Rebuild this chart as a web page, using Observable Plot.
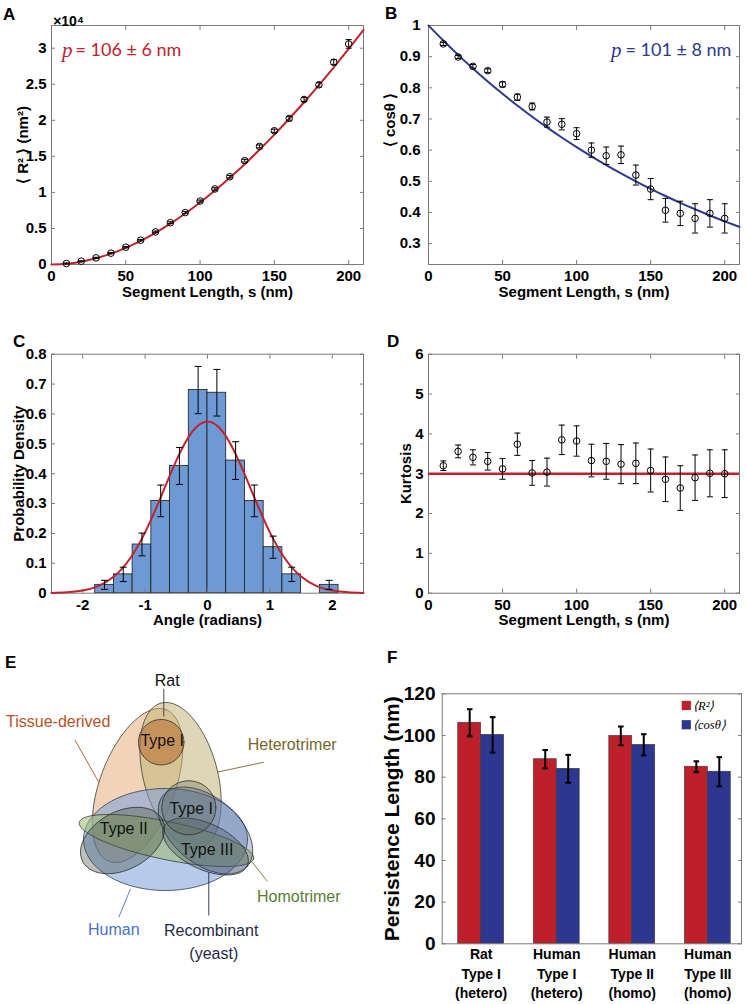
<!DOCTYPE html>
<html><head><meta charset="utf-8">
<script src="https://cdn.jsdelivr.net/npm/d3@7"></script>
<script src="https://cdn.jsdelivr.net/npm/@observablehq/plot@0.6"></script>
<style>
body{margin:0;background:#fff;}
#fig{position:relative;width:747px;height:1004px;overflow:hidden;font-family:"Liberation Sans",Arial,sans-serif;}
.panel{position:absolute;}
.letter{position:absolute;font-weight:bold;font-size:17px;line-height:17px;color:#000;}
</style></head><body><div id="fig"></div>
<script>
// ---------------- DATA ----------------
const segmentLength = [10,20,30,40,50,60,70,80,90,100,110,120,130,140,150,160,170,180,190,200];
// Panel A: <R^2> (nm^2)
const r2Mean = [140,460,920,1570,2400,3370,4520,5800,7200,8800,10480,12180,14400,16380,18550,20260,22890,24920,28060,30600];
const r2Err  = [60,60,70,80,90,100,110,120,130,140,160,170,190,200,220,240,260,300,350,600];
const fitS   = [0,10,20,30,40,50,60,70,80,90,100,110,120,130,140,150,160,170,180,190,200,210];
const r2Fit  = [0,98,388,859,1504,2315,3283,4402,5666,7066,8597,10253,12028,13916,15913,18013,20212,22505,24888,27356,29906,32533];
// Panel B: <cos theta>
const cosMean = [0.941,0.899,0.869,0.855,0.811,0.770,0.740,0.690,0.683,0.653,0.600,0.582,0.585,0.520,0.475,0.407,0.397,0.381,0.397,0.381];
const cosErr  = [0.005,0.005,0.006,0.006,0.008,0.010,0.011,0.016,0.018,0.019,0.023,0.028,0.028,0.032,0.034,0.038,0.039,0.047,0.044,0.047];
const cosFit  = [1,0.9517,0.9057,0.8620,0.8204,0.7808,0.7430,0.7071,0.6730,0.6405,0.6096,0.5801,0.5521,0.5254,0.5000,0.4759,0.4529,0.4310,0.4102,0.3904,0.3716,0.3536];
// Panel C: angle histogram
const binStart   = [-1.8,-1.5,-1.2,-0.9,-0.6,-0.3,0,0.3,0.6,0.9,1.2,1.8];
const binEnd     = [-1.5,-1.2,-0.9,-0.6,-0.3,0,0.3,0.6,0.9,1.2,1.5,2.1];
const density    = [0.028,0.063,0.163,0.309,0.426,0.680,0.671,0.444,0.309,0.154,0.063,0.028];
const densityErr = [0.015,0.024,0.038,0.053,0.062,0.079,0.078,0.063,0.053,0.037,0.024,0.015];
const gaussX = [-2.5,-2.25,-2,-1.75,-1.5,-1.25,-1,-0.75,-0.5,-0.25,0,0.25,0.5,0.75,1,1.25,1.5,1.75,2,2.25,2.5];
const gaussY = [0.0009,0.003,0.009,0.0239,0.0556,0.1136,0.2036,0.3207,0.4436,0.5389,0.575,0.5389,0.4436,0.3207,0.2036,0.1136,0.0556,0.0239,0.009,0.003,0.0009];
// Panel D: kurtosis
const kurtMean = [3.20,3.56,3.41,3.31,3.12,3.74,3.02,3.04,3.85,3.82,3.33,3.31,3.24,3.26,3.08,2.86,2.64,2.90,3.01,3.00];
const kurtErr  = [0.12,0.16,0.19,0.22,0.26,0.28,0.31,0.35,0.37,0.38,0.41,0.45,0.49,0.51,0.54,0.56,0.56,0.57,0.59,0.60];
const gaussianKurtosis = [3];
// Panel F: persistence length
const samples  = ["Rat\nType I\n(hetero)","Human\nType I\n(hetero)","Human\nType II\n(homo)","Human\nType III\n(homo)"];
const lpR2     = [106.1,88.6,99.8,85.0];
const lpR2Err  = [6.5,4.4,4.5,2.6];
const lpCos    = [100.3,84.0,95.5,82.6];
const lpCosErr = [8.5,6.7,5.1,7.0];
const seriesNames = ["⟨R²⟩","⟨cosθ⟩"];

// ---------------- STYLE / LAYOUT ----------------
const GRAY = "#7a7a7a";
const RED = "#c1232d", BLUE = "#2d3990", BAR_RED = "#bd1f2b", BAR_BLUE = "#2e3790";
const capSymbol = {draw(ctx, size){ const w = Math.sqrt(size/Math.PI); ctx.moveTo(-w,0); ctx.lineTo(w,0); }};
const baseStyle = {background:"transparent", fontFamily:"'Liberation Sans', Arial, sans-serif", fontSize:"15px", fontWeight:"bold", color:"black", overflow:"visible"};
const numFmt = d => String(d);

function boxAxes({xTicks, yTicks, xFmt = numFmt, yFmt = numFmt, xPad = 10, yPad = 9, xTop = true}) {
  const blank = () => "";
  const m = [
    Plot.frame({stroke: GRAY, strokeWidth: 1}),
    Plot.axisX({ticks: xTicks, tickSize: -4, tickPadding: xPad, tickFormat: xFmt, stroke: GRAY, fill: "black", label: null}),
    Plot.axisY({ticks: yTicks, tickSize: -4, tickPadding: yPad, tickFormat: yFmt, stroke: GRAY, fill: "black", label: null}),
    Plot.axisY({anchor: "right", ticks: yTicks, tickSize: -4, tickFormat: blank, stroke: GRAY, label: null})
  ];
  if (xTop) m.push(Plot.axisX({anchor: "top", ticks: xTicks, tickSize: -4, tickFormat: blank, stroke: GRAY, label: null}));
  return m;
}
function errorMarks(rows, xk, {stroke = "black", sw = 1, cap = 3.5} = {}) {
  return [
    Plot.ruleX(rows, {x: xk, y1: d => d.m - d.e, y2: d => d.m + d.e, stroke, strokeWidth: sw}),
    Plot.dot(rows, {x: xk, y: d => d.m - d.e, symbol: capSymbol, r: cap, stroke, strokeWidth: sw, fill: "none"}),
    Plot.dot(rows, {x: xk, y: d => d.m + d.e, symbol: capSymbol, r: cap, stroke, strokeWidth: sw, fill: "none"})
  ];
}
const xLabel = (t, dy = 32) => Plot.text([t], {text: d => d, frameAnchor: "bottom", dy, fontSize: 15, fontWeight: "bold", textAnchor: "middle"});
const yLabel = (t, dx, dy = 0, fs = 15) => Plot.text([t], {text: d => d, frameAnchor: "left", dx, dy, rotate: -90, textAnchor: "middle", fontSize: fs, fontWeight: "bold"});
const fig = document.getElementById("fig");
function place(el, left, top) { const d = document.createElement("div"); d.className = "panel"; d.style.left = left + "px"; d.style.top = top + "px"; d.appendChild(el); fig.appendChild(d); }

const segTicks = [0,50,100,150,200];

// ---------------- PANEL A ----------------
const rowsA = segmentLength.map((s, i) => ({s, m: r2Mean[i], e: r2Err[i]}));
const fitA = fitS.map((s, i) => ({s, v: r2Fit[i]}));
place(Plot.plot({
  width: 370, height: 320, marginLeft: 51, marginRight: 7, marginTop: 25, marginBottom: 56,
  style: baseStyle,
  x: {domain: [0, 210]}, y: {domain: [0, 33150]},
  marks: [
    ...boxAxes({xTicks: segTicks, yTicks: [0,5000,10000,15000,20000,25000,30000], yFmt: d => String(d / 1e4)}),
    Plot.line(fitA, {x: "s", y: "v", stroke: RED, strokeWidth: 2, curve: "natural"}),
    ...errorMarks(rowsA, "s", {cap: 3}),
    Plot.dot(rowsA, {x: "s", y: "m", r: 3.3, stroke: "black", strokeWidth: 1, fill: "none"}),
    Plot.text(["×10⁴"], {text: d => d, frameAnchor: "top-left", dx: 17, dy: -9, fontSize: 14, fontWeight: "bold", textAnchor: "middle"}),
    Plot.text(["p"], {text: d => d, frameAnchor: "top-left", dx: 10.5, dy: 17, textAnchor: "start", fontSize: 21, fontStyle: "italic", fontWeight: "normal", fontFamily: "'Liberation Serif', serif", fill: RED}),
    Plot.text(["= 106 ± 6 nm"], {text: d => d, frameAnchor: "top-left", dx: 24, dy: 18, textAnchor: "start", fontSize: 18, fontWeight: "normal", fontFamily: "Lato, sans-serif", fill: RED}),
    xLabel("Segment Length, s (nm)"),
    yLabel("⟨ R² ⟩ (nm²)", -28)
  ]
}), 0, 0);

// ---------------- PANEL B ----------------
const rowsB = segmentLength.map((s, i) => ({s, m: cosMean[i], e: cosErr[i]}));
const fitB = fitS.map((s, i) => ({s, v: cosFit[i]}));
place(Plot.plot({
  width: 377, height: 320, marginLeft: 58, marginRight: 8, marginTop: 25, marginBottom: 56,
  style: baseStyle,
  x: {domain: [0, 210]}, y: {domain: [0.233, 1.0]},
  marks: [
    ...boxAxes({xTicks: segTicks, yTicks: [0.3,0.4,0.5,0.6,0.7,0.8,0.9,1], yFmt: d => d === 1 ? "1" : d.toFixed(1), yPad: 12}),
    Plot.line(fitB, {x: "s", y: "v", stroke: BLUE, strokeWidth: 2, curve: "natural"}),
    ...errorMarks(rowsB, "s", {cap: 3}),
    Plot.dot(rowsB, {x: "s", y: "m", r: 3.3, stroke: "black", strokeWidth: 1, fill: "none"}),
    Plot.text(["p"], {text: d => d, frameAnchor: "top-left", dx: 182.5, dy: 17, textAnchor: "start", fontSize: 21, fontStyle: "italic", fontWeight: "normal", fontFamily: "'Liberation Serif', serif", fill: BLUE}),
    Plot.text(["= 101 ± 8 nm"], {text: d => d, frameAnchor: "top-left", dx: 197, dy: 18, textAnchor: "start", fontSize: 18, fontWeight: "normal", fontFamily: "Lato, sans-serif", fill: BLUE}),
    xLabel("Segment Length, s (nm)"),
    yLabel("⟨ cosθ ⟩", -38, -25)
  ]
}), 370, 0);

// ---------------- PANEL C ----------------
const rowsC = binStart.map((b, i) => ({x1: b, x2: binEnd[i], c: (b + binEnd[i]) / 2, m: density[i], e: densityErr[i]}));
const fitC = gaussX.map((x, i) => ({x, v: gaussY[i]}));
place(Plot.plot({
  width: 370, height: 320, marginLeft: 51, marginRight: 7, marginTop: 33.7, marginBottom: 47.3,
  style: baseStyle,
  x: {domain: [-2.5, 2.5]}, y: {domain: [0, 0.8]},
  marks: [
    Plot.rectY(rowsC, {x1: "x1", x2: "x2", y: "m", fill: "#6d9ad4", stroke: "#1a1a1a", strokeWidth: 0.8}),
    ...boxAxes({xTicks: [-2,-1,0,1,2], yTicks: [0,0.1,0.2,0.3,0.4,0.5,0.6,0.7,0.8], yFmt: d => d === 0 ? "0" : d.toFixed(1)}),
    Plot.line(fitC, {x: "x", y: "v", stroke: RED, strokeWidth: 2, curve: "natural"}),
    ...errorMarks(rowsC, "c", {cap: 3.5}),
    xLabel("Angle (radians)"),
    yLabel("Probability Density", -32)
  ]
}), 0, 320);

// ---------------- PANEL D ----------------
const rowsD = segmentLength.map((s, i) => ({s, m: kurtMean[i], e: kurtErr[i]}));
place(Plot.plot({
  width: 377, height: 320, marginLeft: 58, marginRight: 8, marginTop: 33.7, marginBottom: 47.3,
  style: baseStyle,
  x: {domain: [0, 210]}, y: {domain: [0, 6]},
  marks: [
    ...boxAxes({xTicks: segTicks, yTicks: [0,1,2,3,4,5,6]}),
    Plot.ruleY(gaussianKurtosis, {stroke: RED, strokeWidth: 2.5}),
    ...errorMarks(rowsD, "s", {cap: 3}),
    Plot.dot(rowsD, {x: "s", y: "m", r: 3.3, stroke: "black", strokeWidth: 1, fill: "none"}),
    xLabel("Segment Length, s (nm)"),
    yLabel("Kurtosis", -22)
  ]
}), 370, 320);

// ---------------- PANEL E (Venn) ----------------
const vennShapes = [
  {cx:137, cy:145, rx:81, ry:37.6, angle:-69.5, fill:"#e8b888", op:0.6, stroke:"#3a3a3a"},
  {cx:180, cy:135, rx:75, ry:37, angle:75, fill:"#c2b478", op:0.55, stroke:"#3a3a3a"},
  {cx:165, cy:199, rx:82, ry:51, angle:0, fill:"#7a9ed8", op:0.55, stroke:"#2f3d5a"},
  {cx:166, cy:200, rx:89, ry:19, angle:11.8, fill:"#9fba70", op:0.55, stroke:"#3a3a3a"},
  {cx:205, cy:190, rx:55, ry:33, angle:40, fill:"#4a5a80", op:0.3, stroke:"#1f2a44"},
  {cx:122, cy:200, rx:45, ry:29, angle:-28, fill:"#3d4a3d", op:0.35, stroke:"#2a2a2a"},
  {cx:205, cy:206, rx:46, ry:23, angle:25, fill:"#3a4a55", op:0.3, stroke:"#2a2a2a"},
  {cx:160.7, cy:101.7, rx:22.7, ry:22.7, angle:0, fill:"#b8692e", op:0.55, stroke:"#2a2a2a"},
  {cx:188.3, cy:167.3, rx:27, ry:27, angle:0, fill:"#5a6450", op:0.3, stroke:"#2a2a2a"}
];
const ellipsePts = (s) => d3.range(97).map(k => {
  const t = 2 * Math.PI * k / 96, a = s.angle * Math.PI / 180;
  return {x: s.cx + s.rx * Math.cos(t) * Math.cos(a) - s.ry * Math.sin(t) * Math.sin(a),
          y: s.cy + s.rx * Math.cos(t) * Math.sin(a) + s.ry * Math.sin(t) * Math.cos(a)};
});
const vennText = [
  {t:"Rat", x:166.7, y:40, c:"#111"},
  {t:"Tissue-derived", x:57.7, y:81.7, c:"#b5532a"},
  {t:"Heterotrimer", x:291.7, y:104.3, c:"#76662a"},
  {t:"Type I", x:161.7, y:100, c:"#111"},
  {t:"Type I", x:190.7, y:168.3, c:"#111"},
  {t:"Type II", x:123.3, y:188.3, c:"#111"},
  {t:"Type III", x:206.7, y:209.3, c:"#111"},
  {t:"Homotrimer", x:298.3, y:256.7, c:"#5b7b33"},
  {t:"Human", x:113.3, y:289.3, c:"#4a72c4"},
  {t:"Recombinant", x:210.7, y:290, c:"#222b45"},
  {t:"(yeast)", x:213.3, y:313.3, c:"#222b45"}
];
const vennLeaders = [
  {x1:163.3, y1:48.3, x2:163.3, y2:76, c:"#333"},
  {x1:74.3, y1:99.3, x2:98.3, y2:141.7, c:"#b5532a"},
  {x1:263.3, y1:121.7, x2:216.7, y2:131.7, c:"#76662a"},
  {x1:266.7, y1:240.7, x2:251.7, y2:221.7, c:"#5b7b33"},
  {x1:118.3, y1:276.7, x2:130, y2:248.3, c:"#4a72c4"},
  {x1:208.3, y1:275, x2:208.3, y2:231.7, c:"#222b45"}
];
place(Plot.plot({
  width: 370, height: 364, margin: 0,
  style: {...baseStyle, fontWeight: "normal", fontSize: "16px"},
  x: {domain: [0, 370], range: [0, 370], axis: null},
  y: {domain: [0, 364], range: [0, 364], axis: null},
  color: {type: "identity"},
  marks: [
    ...vennShapes.map(s => Plot.line(ellipsePts(s), {x: "x", y: "y", curve: "linear-closed", fill: s.fill, fillOpacity: s.op, stroke: s.stroke, strokeWidth: 0.8})),
    Plot.link(vennLeaders, {x1: "x1", y1: "y1", x2: "x2", y2: "y2", stroke: "c", strokeWidth: 0.9}),
    Plot.text(vennText, {x: "x", y: "y", text: "t", fill: "c", fontSize: 16, fontWeight: "normal"})
  ]
}), 0, 640);

// ---------------- PANEL F ----------------
const barW = 0.304;
const seriesColors = [BAR_RED, BAR_BLUE];
const rowsF = samples.flatMap((g, i) => [
  {i: i + 1, s: 0, m: lpR2[i], e: lpR2Err[i]},
  {i: i + 1, s: 1, m: lpCos[i], e: lpCosErr[i]}
]);
const legendF = seriesNames.map((n, k) => ({n, k}));
place(Plot.plot({
  width: 377, height: 364, marginLeft: 71.7, marginRight: 6, marginTop: 53.3, marginBottom: 60.7,
  style: baseStyle,
  x: {domain: [0.484, 4.446]}, y: {domain: [0, 120]},
  color: {type: "identity"},
  marks: [
    Plot.rectY(rowsF, {x1: d => d.s === 0 ? d.i - barW : d.i, x2: d => d.s === 0 ? d.i : d.i + barW, y: "m", fill: d => seriesColors[d.s], stroke: "#3a3a3a", strokeWidth: 0.6}),
    Plot.frame({stroke: GRAY}),
    Plot.axisX({ticks: [1,2,3,4], tickSize: 0, tickPadding: 2, tickFormat: i => samples[i - 1], lineHeight: 1.37, fontSize: 14, fill: "black", label: null}),
    Plot.axisY({ticks: [0,20,40,60,80,100,120], tickSize: -4, tickPadding: 10.7, tickFormat: numFmt, stroke: GRAY, fill: "black", fontSize: 19, label: null}),
    Plot.axisY({anchor: "right", ticks: [0,20,40,60,80,100,120], tickSize: -4, tickFormat: () => "", stroke: GRAY, label: null}),
    ...errorMarks(rowsF, d => d.s === 0 ? d.i - barW / 2 : d.i + barW / 2, {sw: 2, cap: 2.8}),
    yLabel("Persistence Length (nm)", -50, 0, 21)
  ]
}), 370, 640);

// legend for F
place(Plot.plot({
  width: 80, height: 50, margin: 0,
  style: {...baseStyle, fontWeight: "normal"},
  x: {domain: [0, 1], range: [0, 80], axis: null},
  y: {type: "point", domain: seriesNames, range: [11.5, 34.5], padding: 0, axis: null},
  color: {type: "identity"},
  marks: [
    Plot.dot(legendF, {x: () => 0, y: "n", symbol: "square", r: 6.2, fill: d => seriesColors[d.k], dx: 7}),
    Plot.text(legendF, {x: () => 0, y: "n", text: "n", textAnchor: "start", dx: 15, fontSize: 15, fontStyle: "italic", fontWeight: "normal", fontFamily: "'Liberation Serif', serif"})
  ]
}), 680, 694.5);

// ---------------- PANEL LETTERS ----------------
[["A",3,5.6],["B",385,4.6],["C",13,332.6],["D",387,332.6],["E",5,653.6],["F",387,648.6]].forEach(([t,l,tp]) => {
  const d = document.createElement("div"); d.className = "letter"; d.textContent = t; d.style.left = l + "px"; d.style.top = tp + "px"; fig.appendChild(d);
});
</script>
</body></html>
